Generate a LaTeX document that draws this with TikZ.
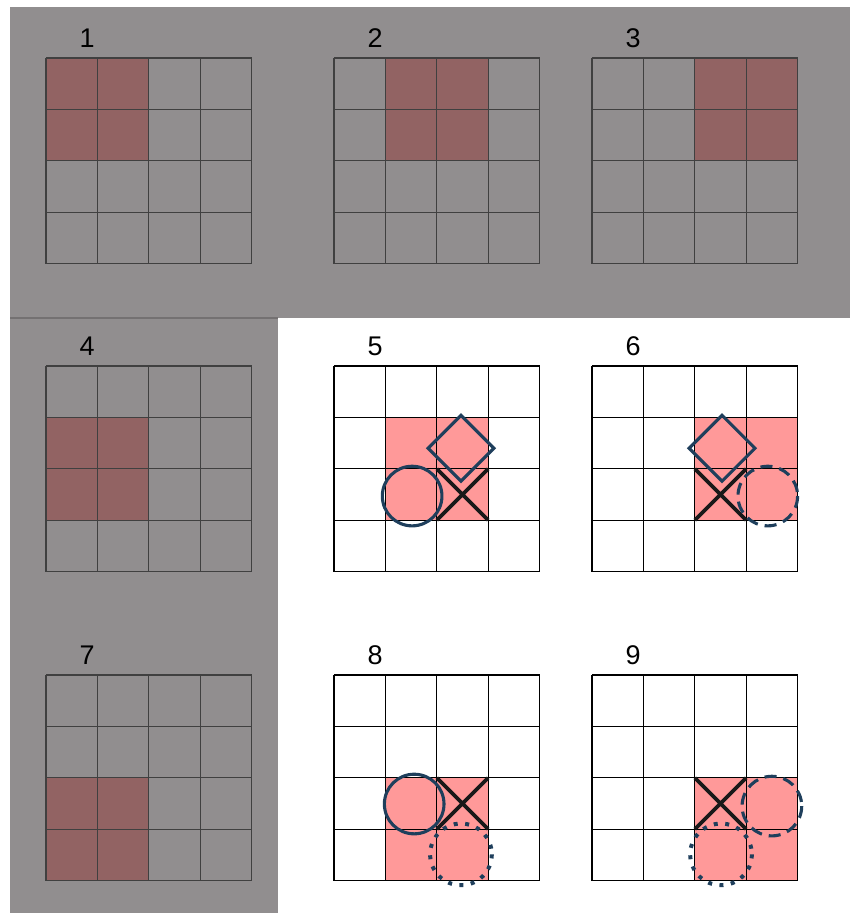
\documentclass[tikz,border=0pt]{standalone}
\usepackage{fontspec}
\setmainfont{Liberation Sans}
\usetikzlibrary{positioning}
\definecolor{bggray}{HTML}{918E8F}
\definecolor{darkhl}{HTML}{926363}
\definecolor{pinkhl}{HTML}{FF9999}
\definecolor{navy}{HTML}{1F3F5C}
\tikzset{
  gridline/.style={line width=1.1pt},
  numlbl/.style={font=\fontsize{27}{30}\selectfont, inner sep=0pt},
  ring/.style={draw=navy, line width=3.1pt},
  dashring/.style={ring, dash pattern=on 12pt off 7pt},
  dotring/.style={ring, line width=4pt, dash pattern=on 4pt off 7.5pt},
  cross/.style={draw=black!90, line width=3.6pt},
  dia/.style={draw=navy, line width=3.1pt, line join=miter},
}

\begin{document}
\begin{tikzpicture}[x=1pt, y=-1pt]
    \def\cw{51.4pt}
    \useasboundingbox (0,0) rectangle (850,913);

    % --- gray background (top band + left column) ---
    \fill[bggray] (10,7) rectangle (850,318);
    \fill[bggray] (10,318) rectangle (278,913);
    \draw[bggray!80!black, line width=1.5pt] (10,318) -- (278,318);

    % --- 4x4 grids: label / origin / highlighted 2x2 block ---
    \foreach \i/\x/\y/\fc/\fr/\hl/\gc in {
        1/46/58/0/0/darkhl/black!75, 2/334/58/1/0/darkhl/black!75, 3/592/58/2/0/darkhl/black!75,
        4/46/366/0/1/darkhl/black!75, 5/334/366/1/1/pinkhl/black, 6/592/366/2/1/pinkhl/black,
        7/46/675/0/2/darkhl/black!75, 8/334/675/1/2/pinkhl/black, 9/592/675/2/2/pinkhl/black} {
        \begin{scope}[shift={(\x,\y)}, x=\cw, y=-\cw]
            \fill[\hl] (\fc,\fr) rectangle +(2,2);
            \foreach \k in {0,...,4} {
                \draw[gridline, \gc] (\k,0) -- (\k,4);
                \draw[gridline, \gc] (0,\k) -- (4,\k);
            }
            \node[numlbl] (lbl\i) at (0.8,-0.39) {\i};
        \end{scope}
    }

    % --- panel 5 ---
    \begin{scope}[shift={(334,366)}, x=\cw, y=-\cw]
        \draw[ring] (1.52,2.53) circle[radius=0.58];
        \draw[cross] (2,2) -- (3,3) (2,3) -- (3,2);
        \draw[dia] (2.47,0.96) -- (3.11,1.6) -- (2.47,2.24) -- (1.83,1.6) -- cycle;
    \end{scope}

    % --- panel 6 ---
    \begin{scope}[shift={(592,366)}, x=\cw, y=-\cw]
        \draw[cross] (2,2) -- (3,3) (2,3) -- (3,2);
        \draw[dia] (2.53,0.96) -- (3.17,1.6) -- (2.53,2.24) -- (1.89,1.6) -- cycle;
        \draw[dashring] (3.42,2.53) circle[radius=0.58];
    \end{scope}

    % --- panel 8 ---
    \begin{scope}[shift={(334,675)}, x=\cw, y=-\cw]
        \draw[ring] (1.56,2.51) circle[radius=0.58];
        \draw[cross] (2,2) -- (3,3) (2,3) -- (3,2);
        \draw[dotring] (2.47,3.49) circle[radius=0.6];
    \end{scope}

    % --- panel 9 ---
    \begin{scope}[shift={(592,675)}, x=\cw, y=-\cw]
        \draw[cross] (2,2) -- (3,3) (2,3) -- (3,2);
        \draw[dashring] (3.5,2.55) circle[radius=0.58];
        \draw[dotring] (2.51,3.49) circle[radius=0.6];
    \end{scope}
\end{tikzpicture}
\end{document}
